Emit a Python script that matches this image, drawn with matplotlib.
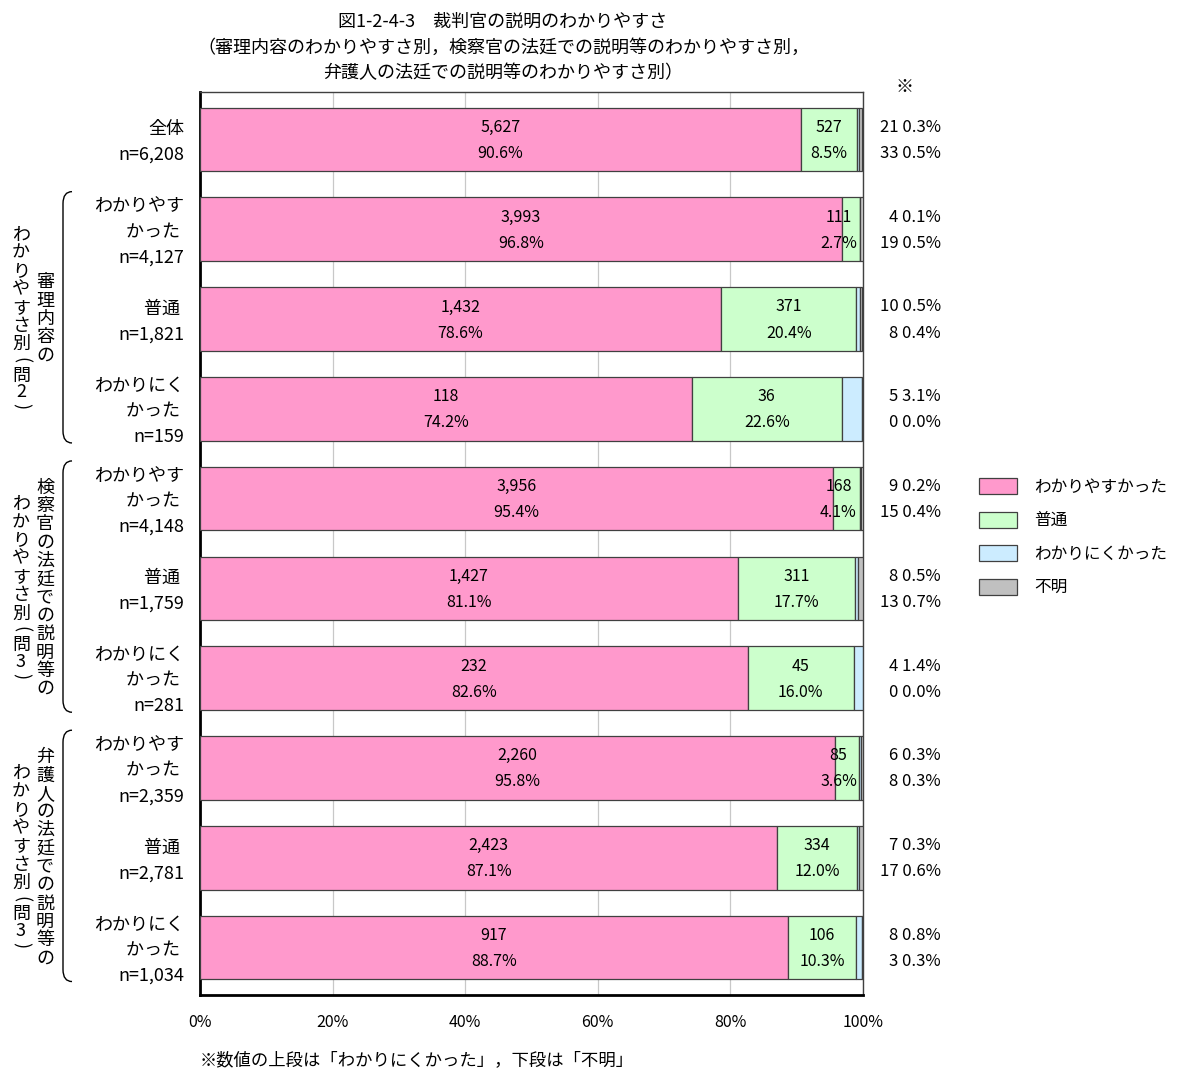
import numpy as np
import matplotlib.pyplot as plt
from matplotlib.path import Path
from matplotlib.patches import PathPatch
from matplotlib.transforms import blended_transform_factory

plt.rcParams['font.family'] = ['Noto Sans CJK JP', 'DejaVu Sans']

W, H = 1179, 1070

# data
row_lines = [["全体", "n=6,208"],
             ["わかりやす", "かった ", "n=4,127"],
             ["普通 ", "n=1,821"],
             ["わかりにく", "かった ", "n=159"],
             ["わかりやす", "かった ", "n=4,148"],
             ["普通 ", "n=1,759"],
             ["わかりにく", "かった ", "n=281"],
             ["わかりやす", "かった ", "n=2,359"],
             ["普通 ", "n=2,781"],
             ["わかりにく", "かった ", "n=1,034"]]
series = ["わかりやすかった", "普通", "わかりにくかった", "不明"]
colors = ["#FF99CC", "#CCFFCC", "#CCECFF", "#C0C0C0"]

easy_n = [5627, 3993, 1432, 118, 3956, 1427, 232, 2260, 2423, 917]
easy_pct = [90.6, 96.8, 78.6, 74.2, 95.4, 81.1, 82.6, 95.8, 87.1, 88.7]
normal_n = [527, 111, 371, 36, 168, 311, 45, 85, 334, 106]
normal_pct = [8.5, 2.7, 20.4, 22.6, 4.1, 17.7, 16.0, 3.6, 12.0, 10.3]
hard_n = [21, 4, 10, 5, 9, 8, 4, 6, 7, 8]
hard_pct = [0.3, 0.1, 0.5, 3.1, 0.2, 0.5, 1.4, 0.3, 0.3, 0.8]
unknown_n = [33, 19, 8, 0, 15, 13, 0, 8, 17, 3]
unknown_pct = [0.5, 0.5, 0.4, 0.0, 0.4, 0.7, 0.0, 0.3, 0.6, 0.3]

group_right = ["審理内容の", "検察官の法廷での説明等の", "弁護人の法廷での説明等の"]
group_left = ["わかりやすさ別(問2)", "わかりやすさ別(問3)", "わかりやすさ別(問3)"]
group_rows = [(1, 3), (4, 6), (7, 9)]

title_lines = ["図1-2-4-3　裁判官の説明のわかりやすさ",
               "（審理内容のわかりやすさ別，検察官の法廷での説明等のわかりやすさ別，",
               "弁護人の法廷での説明等のわかりやすさ別）"]
footnote = "※数値の上段は「わかりにくかった」，下段は「不明」"

fig = plt.figure(figsize=(W / 100, H / 100), dpi=100)
ax = fig.add_axes([200 / W, 1 - 995 / H, 663 / W, 903 / H])

y = np.arange(len(easy_pct))
pcts = [easy_pct, normal_pct, hard_pct, unknown_pct]
left = np.zeros(len(y))
for name, vals, c in zip(series, pcts, colors):
    ax.barh(y, vals, left=left, height=0.71, color=c, edgecolor="#404040",
            linewidth=0.9, label=name, zorder=3)
    left += np.array(vals)

ax.set_xlim(0, 100)
ax.set_ylim(9.53, -0.53)
ax.set_xticks(np.arange(0, 101, 20))
ax.set_xticklabels([f"{v}%" for v in range(0, 101, 20)], fontsize=11.5)
ax.set_yticks([])
ax.tick_params(axis="x", length=0, pad=14)
ax.grid(axis="x", color="#C8C8C8", linewidth=0.9, zorder=0)
for s in ["left", "bottom"]:
    ax.spines[s].set_linewidth(2)
    ax.spines[s].set_color("black")
for s in ["top", "right"]:
    ax.spines[s].set_linewidth(1)
    ax.spines[s].set_color("#404040")

up, dn = -0.135, 0.155
fs = 11.5
for i in y:
    xe = easy_pct[i] / 2
    ax.text(xe, i + up, f"{easy_n[i]:,}", ha="center", va="center", fontsize=fs, zorder=5)
    ax.text(xe, i + dn, f"{easy_pct[i]:.1f}%", ha="center", va="center", fontsize=fs, zorder=5)
    xn = min(easy_pct[i] + normal_pct[i] / 2, 96.3)
    ax.text(xn, i + up, f"{normal_n[i]:,}", ha="center", va="center", fontsize=fs, zorder=5)
    ax.text(xn, i + dn, f"{normal_pct[i]:.1f}%", ha="center", va="center", fontsize=fs, zorder=5)

mix = blended_transform_factory(fig.transFigure, ax.transData)
for i in y:
    ax.text(941 / W, i + up, f"{hard_n[i]} {hard_pct[i]:.1f}%", transform=mix,
            ha="right", va="center", fontsize=12)
    ax.text(941 / W, i + dn, f"{unknown_n[i]} {unknown_pct[i]:.1f}%", transform=mix,
            ha="right", va="center", fontsize=12)
fig.text(905 / W, 1 - 87 / H, "※", ha="center", va="center", fontsize=13)

# category labels
step = 0.285
for i, lines in enumerate(row_lines):
    n = len(lines)
    for k, t in enumerate(lines):
        yy = i + 0.03 + (k - (n - 1) / 2) * step
        ax.text(184 / W, yy, t, transform=mix, ha="right", va="center", fontsize=13)

# brackets and vertical group labels
ppu = 903 / 10.06
for (r0, r1), rt, lt in zip(group_rows, group_right, group_left):
    top, bot = r0 - 0.42, r1 + 0.38
    cu = 12 / ppu
    verts = [(72 / W, top), (63 / W, top), (63 / W, top + cu),
             (63 / W, bot - cu), (63 / W, bot), (72 / W, bot)]
    codes = [Path.MOVETO, Path.CURVE3, Path.CURVE3, Path.LINETO, Path.CURVE3, Path.CURVE3]
    ax.add_patch(PathPatch(Path(verts, codes), transform=mix, fill=False,
                           edgecolor="black", linewidth=1, clip_on=False))
    yc = (r0 + r1) / 2
    for x0, txt in [(45, rt), (21, lt)]:
        adv = [13 if ch in "()" else 15 if ch in "23" else 18.3 for ch in txt]
        total = sum(adv)
        pos = -total / 2
        for ch, a in zip(txt, adv):
            rot = -90 if ch in "()" else 0
            ax.text(x0 / W, yc + (pos + a / 2) / ppu, ch, transform=mix, rotation=rot,
                    ha="center", va="center", fontsize=13)
            pos += a

# legend
ax.legend(loc="upper left", bbox_to_anchor=(964 / W, 1 - 463 / H),
          bbox_transform=fig.transFigure, frameon=False, fontsize=12,
          handlelength=2.3, handleheight=1.1, labelspacing=0.95, handletextpad=1.0)

for k, t in enumerate(title_lines):
    fig.text(503 / W, 1 - (22 + 25.5 * k) / H, t, ha="center", va="center", fontsize=13)
fig.text(200 / W, 1 - 1060 / H, footnote, ha="left", va="center", fontsize=12.5)

fig.savefig("out.png", dpi=100)
